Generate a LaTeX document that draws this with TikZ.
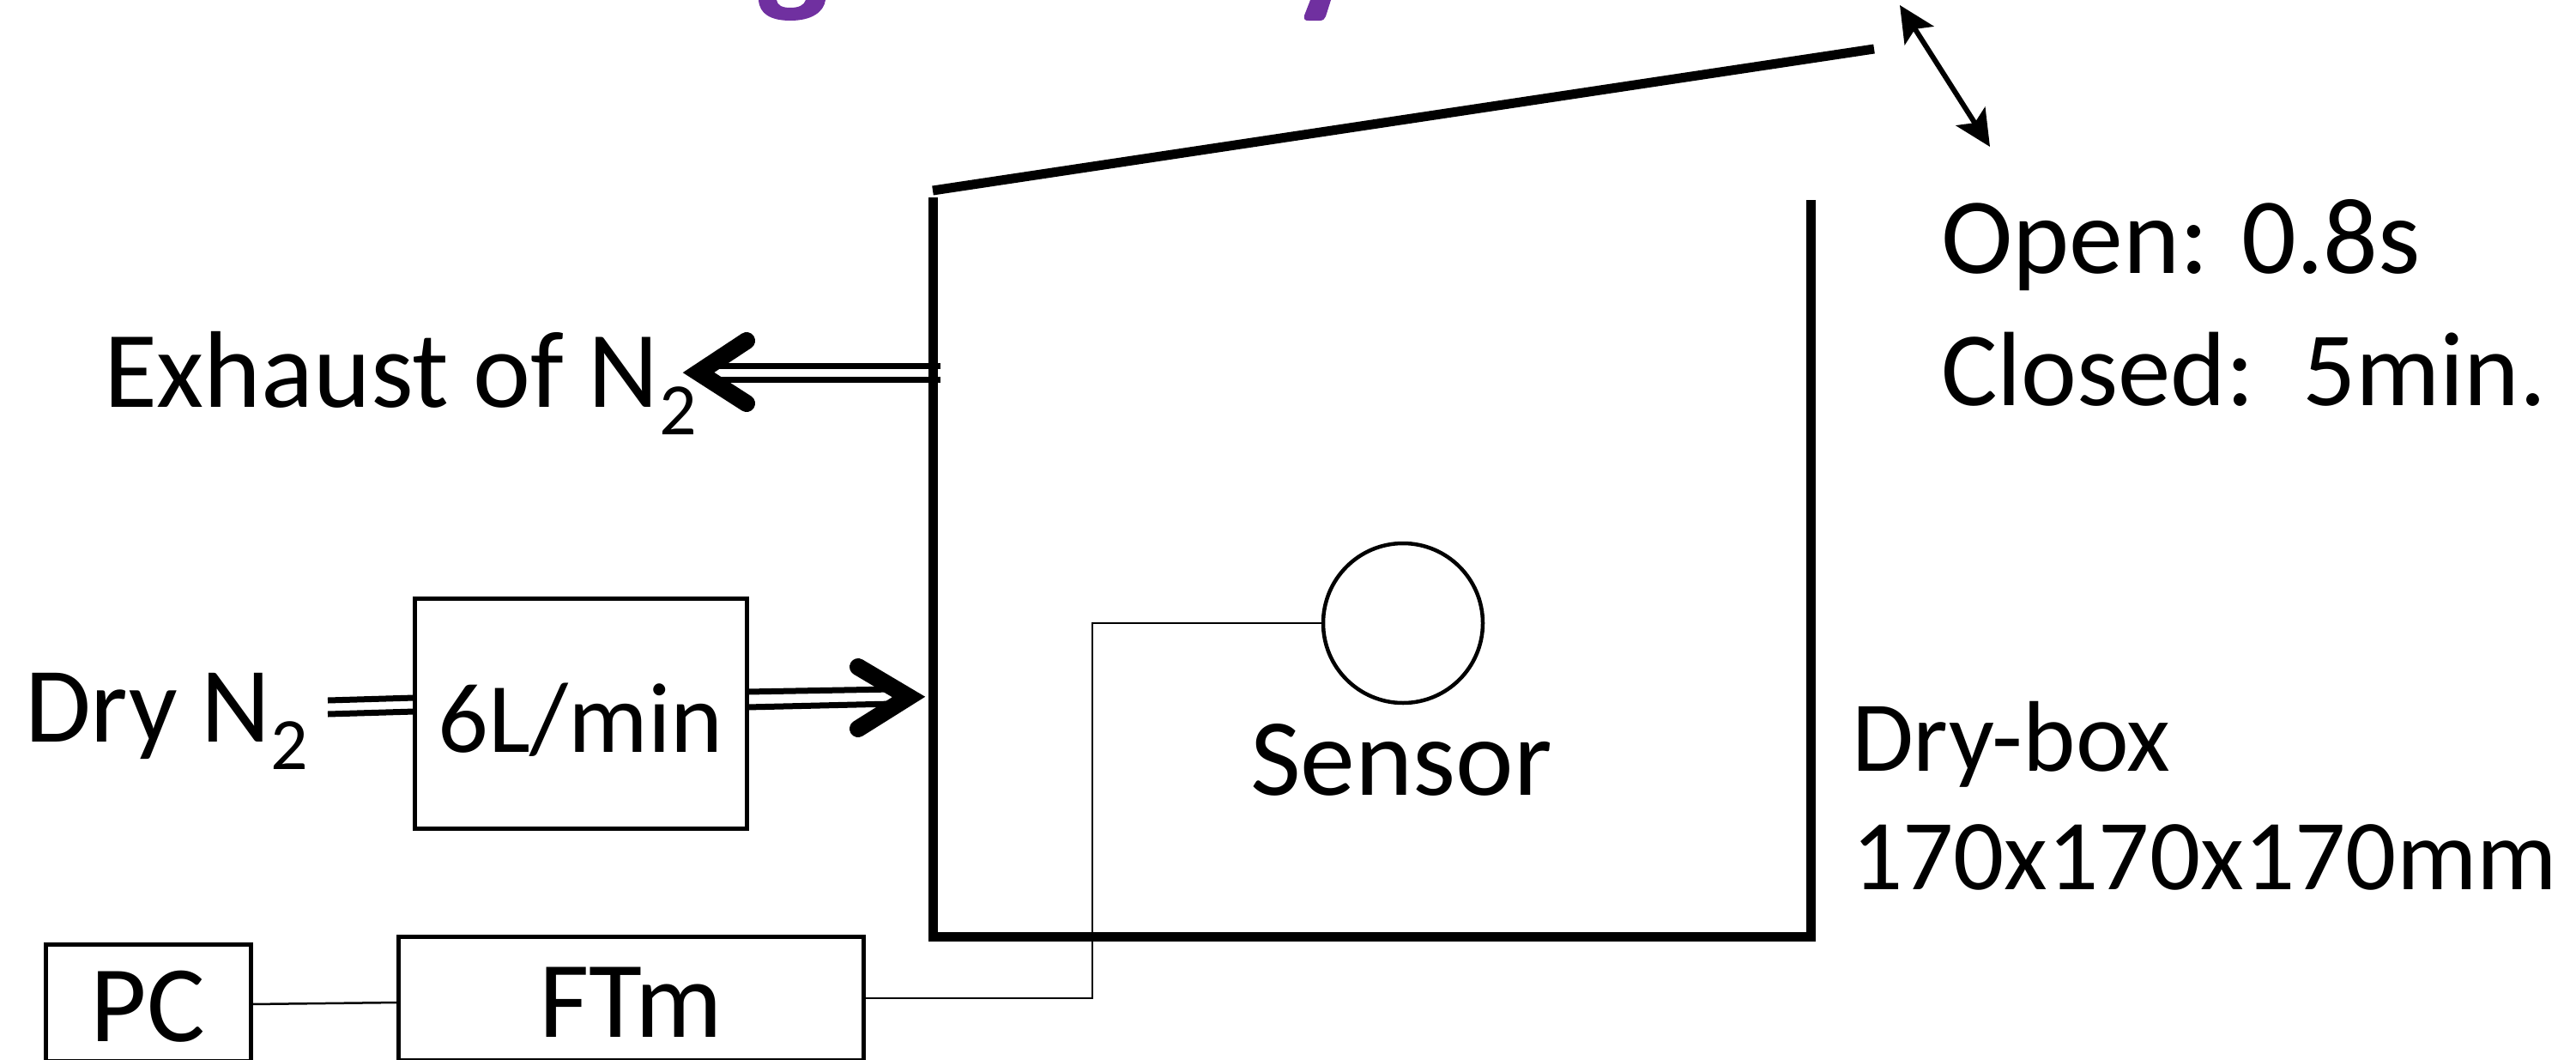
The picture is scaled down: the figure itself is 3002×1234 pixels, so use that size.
\documentclass[tikz,border=0pt]{standalone}
\usepackage{fontspec}
\setmainfont{Carlito}
\usetikzlibrary{arrows.meta,calc}
\definecolor{titlepurple}{HTML}{7030A0}
\newcommand{\subtwo}{\raisebox{-32pt}{\fontsize{86}{86}\selectfont 2}}
\newcommand{\sized}[1]{\fontsize{#1}{#1}\selectfont}
\tikzset{
  every node/.style={inner sep=0pt,outer sep=0pt},
  bigtext/.style={anchor=base west},
  wall/.style={line width=11pt,line join=miter,line cap=butt},
  boxnode/.style={draw,line width=5pt,rectangle,text height=90pt,text depth=0pt,align=center},
  gasline/.style={line width=7pt},
  chevron/.style={line width=20pt,line cap=round,line join=miter},
  thinwire/.style={line width=2.5pt},
  travel/.style={line width=6pt,{Stealth[length=42pt,width=40pt,inset=9pt]}-{Stealth[length=42pt,width=40pt,inset=9pt]}}
}
\begin{document}
\begin{tikzpicture}[x=1pt,y=-1pt]
\useasboundingbox (0,0) rectangle (3002,1234);
\clip (0,0) rectangle (3002,1234);
% fragments of the cropped title
\fill[titlepurple] (884,0) .. controls (885,16) and (898,24) .. (921,24)
  .. controls (946,24) and (960,14) .. (962,0) -- (939,0)
  .. controls (937,6) and (931,9) .. (921,9) .. controls (911,9) and (906,6) .. (905,0) -- cycle;
\fill[titlepurple] (1527,0) -- (1520,18) .. controls (1519,23) and (1521,24) .. (1525,24)
  -- (1538,24) .. controls (1542,24) and (1544,22) .. (1545,19) -- (1551,0) -- cycle;
% dry-box
\coordinate (lidL) at (1087,222);
\coordinate (lidR) at (2184,57);
\coordinate (wallLtop) at (1087,230);
\coordinate (cornerL) at (1087,1091);
\coordinate (cornerR) at (2110,1091);
\coordinate (wallRtop) at (2110,233);
\draw[wall] (wallLtop) -- (cornerL) -- (cornerR) -- (wallRtop);
\draw[wall] (lidL) -- (lidR);
% lid travel
\coordinate (travelA) at (2214,6);
\coordinate (travelB) at (2319,171);
\draw[travel] (travelA) -- (travelB);
% boxes
\node[boxnode,font=\sized{116},minimum width=387pt,minimum height=268pt] (flow) at (676.5,831) {6L/min};
\node[boxnode,font=\sized{127},minimum width=542pt,minimum height=144pt] (ftm) at (735,1163) {FTm};
\node[boxnode,font=\sized{127},minimum width=239pt,minimum height=136pt] (pc) at (172.5,1168) {PC};
\node[draw,circle,line width=4.5pt,minimum size=186pt] (sensor) at (1635,726) {};
% labels
\node[bigtext,font=\sized{127}] (exhaust) at (121,474) {Exhaust of N\subtwo};
\node[bigtext,font=\sized{125}] (dryn) at (29,864) {Dry N\subtwo};
\node[bigtext,font=\sized{126}] (open) at (2262,318) {Open: 0.8s};
\node[bigtext,font=\sized{123}] (closed) at (2262,472) {Closed:\ \ 5min.};
\node[font=\sized{128},anchor=base] (senslabel) at (1633,926) {Sensor};
\node[bigtext,font=\sized{117}] (drybox) at (2158,898) {Dry-box};
\node[bigtext,font=\sized{117}] (dims) at (2158,1036) {170x170x170mm};
% wiring
\coordinate (turn) at (1273,726);
\draw[thinwire] (sensor.west) -- (turn) -- (turn |- ftm.east) -- (ftm.east);
\draw[thinwire] ([yshift=-2pt]pc.east) -- ([yshift=-5pt]ftm.west);
% exhaust arrow
\coordinate (exTip) at (814,434);
\draw[gasline] (1096,426) -- (836,426);
\draw[gasline] (1096,442) -- (836,442);
\draw[chevron] (870,397) -- (exTip) -- (870,470);
% inlet before regulator
\draw[gasline] (382,816) -- ([yshift=18pt]flow.west);
\draw[gasline] (382,832) -- ([yshift=2pt]flow.west);
% inlet after regulator
\coordinate (inTip) at (1059,812);
\draw[gasline] ([yshift=25pt]flow.east) -- (1040,803);
\draw[gasline] ([yshift=7pt]flow.east) -- (1040,820);
\draw[chevron] (1000,777) -- (inTip) -- (1000,849);
\end{tikzpicture}
\end{document}
